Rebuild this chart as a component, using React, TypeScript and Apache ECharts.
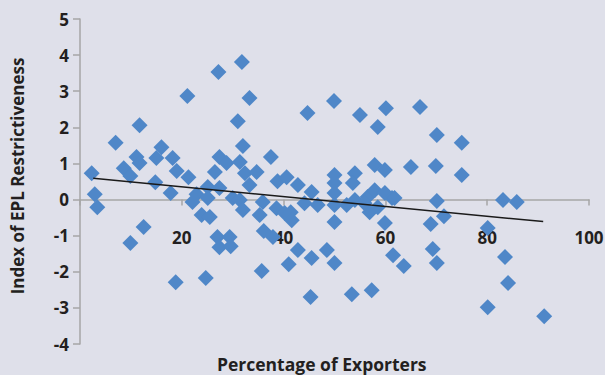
import React, { useEffect, useRef } from "react";
import * as echarts from "echarts";

// Percentage of exporters (x) vs Index of EPL restrictiveness (y)
const exporterPct: number[] = [
  2.3, 2.9, 3.4, 7.0, 8.6, 9.9, 11.7, 11.1, 11.7, 9.9,
  12.5, 15.0, 16.0, 14.8, 18.2, 19.0, 17.8, 21.3, 21.1, 27.2,
  31.8, 33.3, 31.0, 32.0, 37.5, 27.4, 28.8, 26.5, 31.4, 32.4,
  34.7, 33.3, 38.8, 40.6, 22.9, 25.1, 27.4, 22.1, 25.1, 30.0,
  31.4, 32.0, 23.9, 25.5, 35.9, 38.6, 35.3, 40.2, 36.1, 27.0,
  29.4, 27.4, 29.6, 18.8, 24.7, 37.9, 41.4, 41.6, 42.8, 45.5,
  44.1, 46.7, 44.7, 49.9, 55.0, 60.1, 58.5, 66.8, 70.1, 75.0,
  50.0, 50.0, 50.0, 50.0, 50.0, 54.0, 53.6, 52.4, 54.0, 56.5,
  57.9, 59.9, 61.3, 57.9, 59.9, 65.0, 69.9, 75.0, 56.9, 58.5,
  59.9, 55.9, 42.8, 45.5, 48.5, 50.0, 41.0, 35.7, 45.3, 53.4,
  57.3, 61.5, 63.6, 69.3, 70.1, 61.8, 70.1, 71.5, 68.9, 80.1,
  83.1, 85.8, 83.5, 84.1, 80.1, 91.2,
];
const eplIndex: number[] = [
  0.73, 0.15, -0.21, 1.57, 0.87, 0.65, 2.06, 1.18, 1.01, -1.2,
  -0.76, 1.15, 1.45, 0.48, 1.15, 0.79, 0.18, 0.62, 2.87, 3.53,
  3.81, 2.81, 2.17, 1.48, 1.18, 1.18, 1.01, 0.76, 1.04, 0.73,
  0.76, 0.4, 0.51, 0.62, 0.15, 0.35, 0.32, -0.07, 0.04, 0.04,
  -0.01, -0.29, -0.43, -0.48, -0.07, -0.24, -0.43, -0.37, -0.87, -1.04,
  -1.04, -1.32, -1.29, -2.29, -2.17, -1.04, -0.35, -0.57, 0.4, 0.21,
  -0.1, -0.15, 2.4, 2.73, 2.34, 2.53, 2.01, 2.56, 1.79, 1.57,
  0.68, 0.46, 0.18, -0.15, -0.62, 0.73, 0.46, -0.15, -0.01, 0.07,
  0.26, 0.18, 0.04, 0.96, 0.82, 0.9, 0.93, 0.68, -0.35, -0.21,
  -0.65, -0.1, -1.4, -1.62, -1.4, -1.76, -1.79, -1.98, -2.7, -2.62,
  -2.51, -1.54, -1.84, -1.37, -1.76, 0.04, -0.04, -0.46, -0.68, -0.79,
  -0.01, -0.07, -1.59, -2.31, -2.98, -3.23,
];

// Linear trend line end points [x, y]
const trendStart: [number, number] = [2.6, 0.59];
const trendEnd: [number, number] = [91.0, -0.61];

const xTicks = { min: 0, max: 100, interval: 20 };
const yTicks = { min: -4, max: 5, interval: 1 };

const xTitle = "Percentage of Exporters";
const yTitle = "Index of EPL Restrictiveness";

const FONT = "'Open Sans', Lato, sans-serif";
const TEXT = "#231f20";
const AXIS = "#a6a6a6";

const GRID_TOP = 19;
const GRID_BOTTOM = 31;
const CHART_H = 375;

export default function App() {
  const ref = useRef<HTMLDivElement>(null);
  useEffect(() => {
    if (!ref.current) return;
    const chart = echarts.init(ref.current, undefined, { renderer: "svg" });
    const points = exporterPct.map((x, i) => [x, eplIndex[i]]);
    // shift the x axis up from the grid bottom to the y = 0 crossing
    const plotH = CHART_H - GRID_TOP - GRID_BOTTOM;
    const zeroShift = (plotH * (0 - yTicks.min)) / (yTicks.max - yTicks.min);
    chart.setOption({
      animation: false,
      backgroundColor: "#dfe0ea",
      grid: {
        left: 80,
        right: 16,
        top: GRID_TOP,
        bottom: GRID_BOTTOM,
        containLabel: false,
        outerBoundsMode: "none",
      },
      xAxis: {
        type: "value",
        min: xTicks.min,
        max: xTicks.max,
        interval: xTicks.interval,
        offset: -zeroShift,
        axisLine: { onZero: false, lineStyle: { color: AXIS, width: 1.5 } },
        axisTick: { show: true, length: 6, lineStyle: { color: AXIS, width: 1.5 } },
        splitLine: { show: false },
        axisLabel: {
          margin: 29,
          color: TEXT,
          fontFamily: FONT,
          fontWeight: "bold",
          fontSize: 17,
          formatter: (v: number) => (v === 0 ? "" : String(v)),
        },
      },
      yAxis: {
        type: "value",
        min: yTicks.min,
        max: yTicks.max,
        interval: yTicks.interval,
        axisLine: { show: true, onZero: false, lineStyle: { color: AXIS, width: 1.5 } },
        axisTick: { show: true, length: 7, lineStyle: { color: AXIS, width: 1.5 } },
        splitLine: { show: false },
        axisLabel: {
          margin: 11,
          color: TEXT,
          fontFamily: FONT,
          fontWeight: "bold",
          fontSize: 17,
        },
      },
      series: [
        {
          type: "scatter",
          data: points,
          symbol: "diamond",
          symbolSize: 16,
          itemStyle: { color: "#4f87c8", opacity: 1 },
          z: 2,
        },
        {
          type: "line",
          data: [trendStart, trendEnd],
          symbol: "none",
          lineStyle: { color: "#1a1a1a", width: 1.5 },
          z: 3,
        },
      ],
      graphic: [
        {
          type: "text",
          x: 217,
          y: 364,
          style: {
            text: xTitle,
            fill: TEXT,
            font: `bold 17.5px ${FONT}`,
            align: "left",
            verticalAlign: "middle",
          },
        },
        {
          type: "text",
          x: 17,
          y: 176,
          rotation: Math.PI / 2,
          style: {
            text: yTitle,
            fill: TEXT,
            font: `bold 17px ${FONT}`,
            align: "center",
            verticalAlign: "middle",
          },
        },
      ],
    });
    return () => chart.dispose();
  }, []);
  return (
    <div
      ref={ref}
      style={{ position: "fixed", left: 0, top: 0, width: 605, height: 375 }}
    />
  );
}
